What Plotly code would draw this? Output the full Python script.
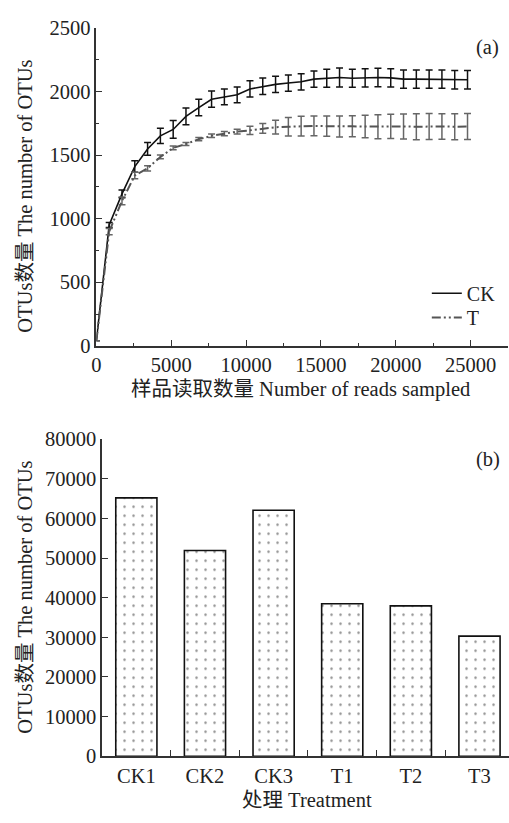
import plotly.graph_objects as go

# ---- data: rarefaction curves (a) ----
reads = [0, 855, 1710, 2565, 3420, 4275, 5130, 5985, 6840, 7695, 8550, 9405, 10260,
         11115, 11970, 12825, 13680, 14535, 15390, 16245, 17100, 17955, 18810, 19665,
         20520, 21375, 22230, 23085, 23940, 24795]
ck_otus = [40, 950, 1195, 1410, 1549, 1652, 1702, 1805, 1874, 1940, 1958, 1975, 2021,
           2042, 2057, 2067, 2077, 2098, 2105, 2111, 2105, 2108, 2111, 2108, 2098,
           2098, 2098, 2098, 2093, 2093]
ck_err = [0, 20, 30, 45, 50, 60, 70, 65, 65, 64, 62, 62, 64, 64, 64, 64, 64, 64, 70,
          74, 70, 72, 72, 72, 72, 72, 72, 72, 72, 73]
t_otus = [40, 898, 1140, 1340, 1396, 1486, 1557, 1587, 1626, 1652, 1669, 1685, 1695,
          1710, 1720, 1723, 1728, 1730, 1728, 1725, 1727, 1725, 1723, 1726, 1725,
          1724, 1726, 1725, 1724, 1725]
t_err = [0, 25, 30, 25, 20, 15, 15, 12, 12, 14, 16, 18, 32, 38, 54, 73, 77, 77, 80,
         83, 83, 89, 94, 96, 98, 102, 102, 100, 102, 102]

# ---- data: total OTUs per sample (b) ----
samples = ["CK1", "CK2", "CK3", "T1", "T2", "T3"]
sample_otus = [65200, 51940, 62090, 38500, 37940, 30320]

SERIF = "Liberation Serif, Times New Roman, Noto Sans CJK SC, serif"
AX = "#333333"
TICKFONT = dict(family=SERIF, size=20.5, color="#222222")

fig = go.Figure()

fig.add_trace(go.Scatter(
    x=reads, y=ck_otus, mode="lines", name="CK", legend="legend",
    line=dict(color="#111111", width=1.6),
    error_y=dict(type="data", array=ck_err, visible=True, color="#111111",
                 thickness=1.5, width=3.5),
    xaxis="x", yaxis="y"))
fig.add_trace(go.Scatter(
    x=reads, y=t_otus, mode="lines", name="T", legend="legend2",
    line=dict(color="#555555", width=2, dash="9px,3px,2px,3px,2px,3px"),
    error_y=dict(type="data", array=t_err, visible=True, color="#666666",
                 thickness=1.5, width=3.5),
    xaxis="x", yaxis="y"))

fig.add_trace(go.Bar(
    x=samples, y=sample_otus, showlegend=False, width=0.6,
    marker=dict(color="white",
                line=dict(color="#111111", width=1.6),
                pattern=dict(shape=".", fgcolor="#222222", bgcolor="white",
                             size=9, solidity=0.06)),
    xaxis="x2", yaxis="y2"))

H = 823.0
W = 509.0

def py(p):
    return (H - p) / H

def px(p):
    return p / W

LEG = dict(xanchor="left", yanchor="middle", bgcolor="rgba(0,0,0,0)",
           font=dict(family=SERIF, size=20), borderwidth=0)

fig.update_layout(
    width=509, height=823,
    margin=dict(l=0, r=0, t=0, b=0),
    paper_bgcolor="white", plot_bgcolor="white",
    font=dict(family=SERIF, size=20, color="#222222"),
    xaxis=dict(domain=[px(92.3), px(508)], range=[0, 27500], anchor="y",
               showline=True, linecolor=AX, linewidth=1.5, showgrid=False,
               zeroline=False, ticks="inside", ticklen=6, tickcolor=AX,
               tickwidth=1.2, tickvals=[0, 5000, 10000, 15000, 20000, 25000],
               tickformat="d",
               minor=dict(ticks="inside", ticklen=3, tickcolor=AX, dtick=2500,
                          tick0=0, showgrid=False),
               tickfont=TICKFONT),
    yaxis=dict(domain=[py(344), py(17.5)], range=[0, 2500], anchor="x",
               showline=True, linecolor=AX, linewidth=1.5, showgrid=False,
               zeroline=False, ticks="inside", ticklen=6, tickcolor=AX,
               tickwidth=1.2, tickvals=[0, 500, 1000, 1500, 2000, 2500],
               tickformat="d",
               minor=dict(ticks="inside", ticklen=3, tickcolor=AX, dtick=250,
                          tick0=0, showgrid=False),
               tickfont=TICKFONT),
    xaxis2=dict(domain=[px(98), 1.0], range=[-0.5, 5.43], anchor="y2",
                showline=True, linecolor=AX, linewidth=1.5, showgrid=False,
                zeroline=False, ticks="inside", ticklen=6, tickcolor=AX,
                tickwidth=1.2, tickson="boundaries", tickfont=TICKFONT),
    yaxis2=dict(domain=[py(765.7), py(440)], range=[0, 80000], anchor="x2",
                showline=True, linecolor=AX, linewidth=1.5, showgrid=False,
                zeroline=False, ticks="inside", ticklen=6, tickcolor=AX,
                tickwidth=1.2, dtick=10000, tickformat="d", tickfont=TICKFONT),
    legend=dict(x=px(426), y=py(290), **LEG),
    legend2=dict(x=px(426), y=py(315), **LEG),
    bargap=0.4,
)

ann = [
    dict(text="(a)", x=px(487), y=py(38)),
    dict(text="(b)", x=px(488), y=py(461)),
    dict(text="样品读取数量 Number of reads sampled", x=px(298), y=py(389)),
    dict(text="处理 Treatment", x=px(305), y=py(811)),
    dict(text="OTUs数量 The number of OTUs", x=px(20), y=py(190), textangle=-90),
    dict(text="OTUs数量 The number of OTUs", x=px(20), y=py(602), textangle=-90),
]
for a in ann:
    fig.add_annotation(xref="paper", yref="paper", showarrow=False,
                       xanchor="center", yanchor="middle",
                       font=dict(family=SERIF, size=20.5, color="#222222"), **a)

fig.write_html("out.html")
